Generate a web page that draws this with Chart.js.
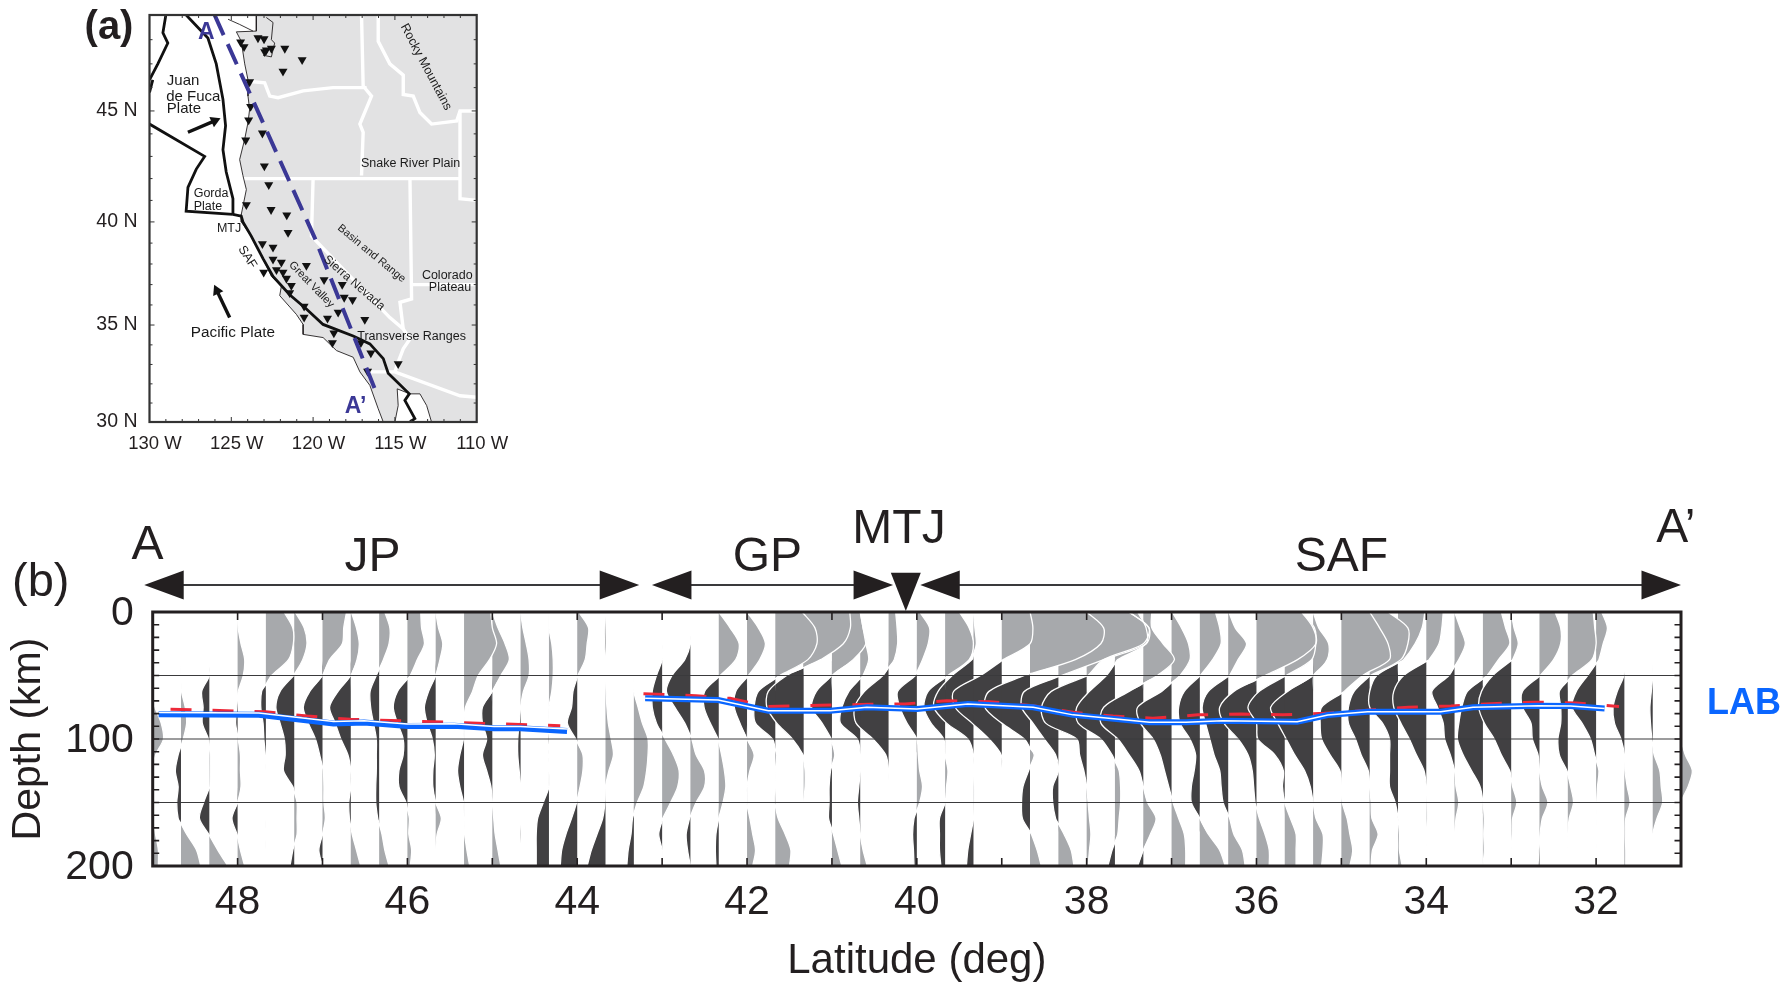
<!DOCTYPE html>
<html>
<head>
<meta charset="utf-8">
<title>Western US LAB profile</title>
<script src="https://cdn.jsdelivr.net/npm/chart.js@4"></script>
<style>
  html, body { margin: 0; padding: 0; background: #fff; overflow: hidden; }
  canvas { position: absolute; left: 0; top: 0; }
</style>
</head>
<body>
<canvas id="profile" width="1785" height="984"></canvas>
<canvas id="map" width="560" height="480"></canvas>
<script>
// ---- panel (b) data ----
const depths = [0, 12.5, 25, 37.5, 50, 62.5, 75, 87.5, 100, 112.5, 125, 137.5, 150, 162.5, 175, 187.5, 200];
const latTicks = [48, 46, 44, 42, 40, 38, 36, 34, 32];
const depthTicks = [0, 100, 200];
const gridDepths = [50, 100, 150];
const traceLats = [49, 48.667, 48.333, 48, 47.667, 47.333, 47, 46.667, 46.333, 46, 45.667, 45.333, 45, 44.667, 44.333, 44, 43.667, 43.333,
  43, 42.667, 42.333, 42, 41.667, 41.333, 41, 40.667, 40.333, 40, 39.667, 39.333, 39, 38.667, 38.333, 38, 37.667, 37.333,
  37, 36.667, 36.333, 36, 35.667, 35.333, 35, 34.667, 34.333, 34, 33.667, 33.333, 33, 32.667, 32.333, 32, 31.667, 31.333, 31];
// amplitude per trace at each depth, in trace spacings; + is grey (right), - is dark (left)
const traceAmps = [
  [0,0,0,0,0,0,.08,.3,.38,.1,0,-.05,-.08,.02,.1,.2,.2],
  [0,0,0,0,0,.02,.15,.2,.08,-.1,-.2,-.1,-.15,-.1,.2,.55,.7],
  [0,0,0,0,0,-.27,-.22,-.25,-.03,.03,.03,.02,-.2,-.35,-.02,.3,.65],
  [0,.02,.12,.25,.2,.02,-.03,-.07,.02,.1,.1,.12,0,-.2,-.02,.1,.25],
  [.64,.95,.97,.8,.2,-.15,-.18,-.1,-.07,-.02,0,0,0,0,-.01,0,0],
  [.03,.35,.45,.3,-.02,-.5,-.65,-.5,-.35,-.32,-.38,-.05,.1,.1,.1,-.05,-.15],
  [.85,.75,.7,.25,0,-.45,-.68,-.5,-.25,-.1,.03,.05,.05,.1,0,-.13,0],
  [.02,.2,.3,.22,0,-.45,-.75,-.55,-.35,-.1,0,0,-.07,-.05,.05,.2,.35],
  [.2,.38,.35,.15,-.1,-.32,-.3,-.2,-.1,-.1,-.1,-.12,-.12,-.05,.1,.2,.35],
  [.47,.5,.6,.35,.1,-.35,-.5,-.35,-.15,-.15,-.3,-.3,-.05,.07,.05,.15,.1],
  [0,.1,.25,.15,0,-.25,-.4,-.3,-.12,-.05,-.1,-.1,0,.2,.05,0,0],
  [.95,1,1.15,.9,.5,.3,.05,0,-.02,-.15,-.23,-.15,-.02,0,.02,.1,.2],
  [0,.2,.45,.6,.3,0,-.35,-.35,-.2,-.35,-.2,-.05,0,.05,.1,.2,.3],
  [0,.08,.2,.3,.3,.1,0,-.05,-.1,-.1,-.05,0,0,0,-.02,0,0],
  [0,0,.1,.15,.15,.1,0,0,-.03,0,0,0,-.2,-.4,-.45,-.45,-.45],
  [.05,.4,.35,.28,.02,-.15,-.2,-.35,-.05,.2,.2,.1,-.02,-.2,-.4,-.55,-.6],
  [0,-.02,-.03,0,0,.02,.05,.1,.2,.28,.12,0,-.02,-.1,-.3,-.5,-.65],
  [0,0,0,0,0,0,.15,.3,.5,.5,.45,.35,.12,-.05,-.1,-.2,-.25],
  [0,0,0,0,-.2,-.35,-.35,-.2,.1,.4,.6,.55,.3,.02,-.12,0,0],
  [0,0,0,-.2,-.65,-.85,-.55,-.2,.05,.2,.5,.5,.2,-.03,-.15,-.1,0],
  [0,.4,.72,.6,.05,-.5,-.52,-.3,-.02,.1,.2,.25,.15,0,-.1,-.12,-.1],
  [0,.4,.65,.45,.05,-.4,-.45,-.25,0,.25,.1,0,-.02,.1,.2,.3,.2],
  [.95,1.4,1.47,1.15,.15,-.6,-.75,-.7,-.1,.05,0,0,-.02,.1,.35,.55,.5],
  [1.63,1.65,1.4,.6,-.6,-1.25,-1.3,-.95,-.4,-.02,.05,.05,0,0,0,0,0],
  [1,1.1,1.2,.75,0,-.55,-.72,-.35,-.02,.1,-.05,-.1,-.1,-.12,.05,.2,.35],
  [0,.1,.2,.3,.1,-.4,-.65,-.7,-.1,0,0,-.05,-.1,-.05,0,.1,.25],
  [.25,.3,.32,.2,-.2,-.85,-1.2,-1.15,-.55,-.1,0,0,0,0,0,0,0],
  [.1,.45,.4,.2,-.05,-.68,-.6,-.35,0,.05,.1,.2,.1,-.1,-.15,-.12,-.1],
  [.5,.85,1,.85,.1,-.6,-.75,-.5,-.05,0,.1,.05,0,-.2,-.2,-.2,-.15],
  [0,.05,.1,-.05,-.75,-1.25,-1.4,-.95,-.2,0,0,.02,.02,0,-.1,-.2,-.25],
  [1,1.1,1,.05,-.75,-1.7,-1.65,-1.05,-.45,-.02,0,0,0,0,0,0,0],
  [2,2.6,2.5,1.6,-.2,-1.45,-1.6,-1,-.2,.15,-.05,-.25,-.3,-.27,.05,.25,.4],
  [2.5,3.2,3.1,1.6,.1,-1.2,-1.3,-.9,-.5,-.1,0,-.2,-.2,-.1,.2,.45,.55],
  [1.5,2.2,2,.6,.05,-1.25,-1.6,-1.45,-.35,-.25,-.1,0,.05,.1,.15,.1,.05],
  [.8,1.1,1.1,.1,-.3,-.9,-1.35,-1.3,-.5,-.1,.15,.2,.2,.15,.1,-.1,-.25],
  [.3,.3,.7,1.1,.5,-.5,-1.4,-1.5,-.9,-.5,-.15,0,.15,.45,.25,0,-.2],
  [.02,.35,.6,.65,.3,-.35,-1.2,-1.1,-.65,-.4,-.25,-.1,.05,.25,.45,.5,.5],
  [.55,.7,.75,.45,.02,-.55,-.75,-.7,-.35,-.15,-.2,-.3,-.3,0,.3,.7,.9],
  [.02,.25,.65,.35,.05,-.7,-.92,-.8,-.65,-.5,-.3,-.25,-.18,.05,.2,.5,.6],
  [1.6,2,2.1,1.45,.3,-.8,-1.3,-1.15,-.65,-.3,-.15,-.1,-.05,.1,.3,.45,.45],
  [.6,1.05,1.1,.95,.05,-.9,-1.3,-1,-.95,-.35,-.05,-.08,0,.2,.4,.4,.4],
  [0,.2,.55,.5,0,-.9,-1.5,-1.25,-.95,-.65,-.3,-.1,0,.1,.35,.35,.3],
  [1,1.35,1.65,1.7,.75,.1,-.7,-.75,-.7,-.4,-.05,0,.03,.2,.3,.4,.3],
  [.65,1.35,1.35,1.1,.02,-.55,-.75,-.75,-.5,-.3,-.05,0,.05,.08,.3,.1,.05],
  [.95,.85,.6,.2,-.75,-1,-1,-.55,-.3,-.3,-.3,-.3,-.1,0,.05,.05,.15],
  [.6,.55,.45,.1,-.8,-1.15,-1.15,-.9,-.6,-.35,-.08,0,.02,.03,0,0,0],
  [0,.2,.38,.15,-.2,-.8,-.6,-.4,-.35,-.15,0,.05,.15,.05,0,0,0],
  [.65,.8,.95,.55,.15,-.55,-.75,-.85,-.9,-.7,-.4,-.1,0,.05,.03,.05,0],
  [0,.1,.25,.05,-.65,-1.05,-1.15,-.95,-.6,-.35,-.05,.05,.2,.05,.03,0,0],
  [.55,.75,.75,.5,.03,-.6,-.6,-.3,-.25,-.05,0,.1,.3,.1,.02,-.02,-.05],
  [.9,.95,1,.85,.15,-.3,-.25,-.25,-.35,-.3,-.03,.1,.2,.05,0,0,0],
  [.2,.4,.25,.1,-.3,-.7,-.85,-.5,-.2,-.05,.1,.05,.02,0,.02,0,0],
  [0,0,0,0,-.02,-.25,-.4,-.35,-.12,0,.02,.1,.2,.05,.03,.05,.05],
  [0,0,0,0,0,-.05,-.1,-.08,-.03,.05,.25,.3,.35,.15,0,0,0],
  [0,0,0,0,0,0,0,0,-.01,.15,.4,.25,0,0,-.03,-.01,0]
];
const labWest = [[48.93,80.6],[47.75,81],[46.87,87.7],[46.51,87.1],[46,89.7],[45.45,89.5],[44.98,91.6],[44.67,91.6],[44.12,93.7]];
const labEast = [[43.2,68],[42.34,69.3],[41.75,77.7],[41.02,77.7],[40.59,75],[40,76.4],[39.4,72.4],[38.63,75],[38.16,81],[37.26,86.9],[36.83,86.9],[36.4,85.6],
  [35.52,86.4],[35.16,81.1],[34.69,78.5],[33.83,78.5],[33.45,75],[32.68,73.8],[32.3,74],[31.9,75.9]];
const redWest = [[48.79,76.6],[47.67,78.5],[47.18,81.9],[46.67,84.5],[44.2,89.5]];
const redEast = [[43.22,64.3],[42.6,65.9],[42.2,68],[41.75,74.5],[41.14,73.5],[40.55,72.7],[40.14,72.4],[39.65,69.8],[39.14,70.6],[38.63,73.8],[38.16,79],[37.69,81.9],[37.22,83.7],
  [36.69,81],[36.18,80.3],[35.69,81],[35.2,79.8],[34.21,75],[33.71,74],[33.23,72.2],[32.73,71],[32.23,71.6],[31.73,74.5]];
// west and east ends of the plate brackets above the profile
const brackets = [[49.1, 43.27], [43.12, 40.28], [39.96, 31]];
const junctionLat = 40.13;

// ---- panel (a) data, [lon, lat] ----
const lonTicks = [-130, -125, -120, -115, -110];
const mapLatTicks = [45, 40, 35, 30];
const land = [[-123.47,49],[-123.47,48.35],[-124.69,48.32],[-124.39,47.93],[-124.18,47],[-123.98,46.33],[-123.98,45.64],[-123.88,45.07],[-123.98,44.5],[-124.18,43.77],[-124.49,42.86],
  [-124.29,42.14],[-124.08,41.5],[-124.29,40.72],[-124.39,40.35],[-124.39,40],[-123.78,39.33],[-123.06,38.26],[-122.55,37.4],[-121.94,36.92],[-122.04,36.46],[-121.02,35.53],[-120.61,35.03],
  [-120.61,34.53],[-119.39,34.37],[-118.57,33.71],[-117.55,33.37],[-117.14,32.62],[-116.53,31.92],[-116.02,30.7],[-115.71,30],[-110,30],[-110,49],[-123.47,49]];
const gulf = [[-114.86,31.74],[-114.08,31.48],[-113.47,31.48],[-113.06,30.87],[-112.76,30],[-115,30],[-114.8,30.87],[-114.86,31.74]];
const puget = [[-122.86,48.9],[-122.45,48.7],[-122.55,48],[-122.35,47.86],[-122.55,47.29],[-123.06,47.36]];
const vancouver = [[-125.2,48.83],[-124.49,48.62],[-123.67,48.35]];
const borders = [
  [[-123.98,46.27],[-122.96,46.2],[-122.65,45.64],[-122.14,45.57],[-120.61,45.86],[-118.78,46],[-116.73,46]],
  [[-117.04,49],[-116.94,46.07],[-116.43,45.64],[-117.14,44.43],[-116.94,44.07],[-117.04,42.14]],
  [[-116.02,49],[-116.02,47.93],[-115.31,47],[-114.49,46.53],[-114.49,45.71],[-113.88,45.64],[-113.47,44.93],[-112.76,44.43],[-111.22,44.57],[-111.02,45],[-110,45]],
  [[-111.02,45],[-111.02,41.08],[-110,41]],
  [[-124.29,42],[-111.02,42]],
  [[-120,42],[-120.1,39.33],[-115.31,35.37],[-114.49,34.8],[-114.08,34.3],[-114.49,33.8],[-114.8,33.12],[-115,32.62]],
  [[-116.63,32.62],[-115,32.62],[-111.02,31.38],[-110,31.3]],
  [[-114.08,42],[-113.98,36.3],[-114.69,36.13],[-114.49,34.8]],
  [[-113.98,37],[-110,37]]
];
const plates = [
  [[-127.76,49],[-126.43,48.07],[-125.92,47],[-125.51,45.5],[-125.35,44.36],[-125.51,43.3],[-125.31,42.3],[-124.9,41.08],[-124.9,40.35]],
  [[-124.9,40.35],[-124.39,40.27],[-124.29,40],[-123.78,39.33],[-123.06,38.26],[-122.45,37.4],[-121.43,36.5],[-120.41,35.8],[-119.39,35.03],[-117.55,34.45],[-116.53,34.05],[-115.71,33.3],[-115.41,32.55],[-114.12,31.48],[-114.39,31.14],[-113.78,30.18],[-114.08,30]],
  [[-129,49],[-129.18,48.28],[-128.88,47.86],[-129.49,47],[-130,46.33]],
  [[-129.8,46.33],[-130,45.8]],
  [[-130,44.43],[-126.63,43],[-127.14,42.43],[-127.65,41.6],[-127.76,40.5],[-124.9,40.35]]
];
const profileLine = [[-126.02,49],[-119.9,39.25],[-116.12,31.5]];
const stations = [[-124.43,47.9],[-124.22,47.71],[-123.37,48.07],[-123,48.03],[-122.86,47.57],[-122.55,47.64],[-122.96,47.5],[-121.73,47.64],[-120.67,47.17],[-121.84,46.69],[-123.88,46.24],
  [-123.82,45.19],[-123.94,44.6],[-123.1,44.03],[-124.12,43.72],[-122.98,42.57],[-122.71,41.72],[-124.08,40.8],[-122.57,40.57],[-121.61,40.32],[-121.53,39.5],[-123.1,38.97],[-122.45,38.8],
  [-122.45,38.22],[-121.94,38.08],[-120.41,37.92],[-123.02,37.6],[-122.24,37.72],[-121.84,37.6],[-121.63,37.3],[-121.33,36.95],[-121.43,36.6],[-119.33,37.23],[-118.22,37],[-118.1,36.37],
  [-117.59,36.25],[-120.55,35.93],[-118.47,35.63],[-120.55,35.38],[-119.12,35.33],[-116.84,35.27],[-118.73,34.6],[-118.82,34.1],[-117.08,34.1],[-116.47,33.58],[-114.8,33.03],[-116.67,32.65]];
const plateArrows = [
  {from: [-127.65,44.07], to: [-126.02,44.57], rot: 66},
  {from: [-125.1,35.38], to: [-125.88,36.7], rot: -25}
];
const mapLabels = [
  {t: 'Juan', lon: -128.94, lat: 46.29, size: 15, align: 'left'},
  {t: 'de Fuca', lon: -128.98, lat: 45.6, size: 15, align: 'left'},
  {t: 'Plate', lon: -128.94, lat: 45.1, size: 15, align: 'left'},
  {t: 'Gorda', lon: -127.3, lat: 41.31, size: 12.5, align: 'left'},
  {t: 'Plate', lon: -127.3, lat: 40.71, size: 12.5, align: 'left'},
  {t: 'MTJ', lon: -125.88, lat: 39.7, size: 12.5, align: 'left'},
  {t: 'SAF', lon: -124.02, lat: 38.33, size: 12.5, rot: 58},
  {t: 'Great Valley', lon: -120.1, lat: 37, size: 11, rot: 46},
  {t: 'Sierra Nevada', lon: -117.49, lat: 37.08, size: 12, rot: 41},
  {t: 'Basin and Range', lon: -116.43, lat: 38.5, size: 11, rot: 39.5},
  {t: 'Colorado', lon: -111.8, lat: 37.45, size: 12.5},
  {t: 'Plateau', lon: -111.63, lat: 36.85, size: 12.5},
  {t: 'Snake River Plain', lon: -114.04, lat: 42.68, size: 12.5},
  {t: 'Rocky Mountains', lon: -113.1, lat: 46.87, size: 12.5, rot: 62},
  {t: 'Transverse Ranges', lon: -113.98, lat: 34.41, size: 12.5},
  {t: 'Pacific Plate', lon: -124.9, lat: 34.63, size: 15.3},
  {t: 'A', lon: -126.53, lat: 48.27, size: 23, bold: true, color: '#3b3896'},
  {t: 'A’', lon: -117.4, lat: 30.8, size: 23, bold: true, color: '#3b3896'}
];

const INK = '#231f20';
const GREY = '#a7a9ac';
const DARK = '#414042';
const BLUE = '#0a66ff';
const FONT = '"Liberation Sans", Arial, sans-serif';

Chart.defaults.font.family = FONT;
Chart.defaults.color = INK;

// ---- panel (b) ----
// wiggle points with the zero crossings added so the lobes can be split by sign
function wigglePoints(lat, amps) {
  const step = 1 / 3;
  const out = [];
  amps.forEach((a, i) => {
    if (i > 0 && amps[i - 1] * a < 0) {
      const f = amps[i - 1] / (amps[i - 1] - a);
      out.push({a: 0, d: depths[i - 1] + f * (depths[i] - depths[i - 1])});
    }
    out.push({a: a, d: depths[i]});
  });
  return {
    full: out.map(p => ({x: lat - p.a * step, y: p.d})),
    pos: out.map(p => ({x: lat - Math.max(p.a, 0) * step, y: p.d})),
    neg: out.map(p => ({x: lat - Math.min(p.a, 0) * step, y: p.d}))
  };
}

const profileDatasets = [];
traceLats.forEach((lat, i) => {
  const w = wigglePoints(lat, traceAmps[i]);
  const edge = lat === 31 ? {clip: false} : {};
  profileDatasets.push({data: w.pos, order: 5, tension: 0.3, borderWidth: 0, backgroundColor: GREY, fill: {target: {value: lat}}, ...edge});
  profileDatasets.push({data: w.neg, order: 5, tension: 0.3, borderWidth: 0, backgroundColor: DARK, fill: {target: {value: lat}}});
  profileDatasets.push({data: w.full, order: 4, tension: 0.3, borderColor: '#fff', borderWidth: 1.3, fill: false, ...edge});
});
gridDepths.forEach(d => {
  profileDatasets.push({data: [{x: 49, y: d}, {x: 31, y: d}], order: 3, borderColor: '#3a3a3c', borderWidth: 1.2, fill: false});
});
function labDatasets(red, blue, whiteShift) {
  profileDatasets.push({data: red.map(p => ({x: p[0], y: p[1]})), order: 2, borderColor: '#ed2939', borderWidth: 3, borderDash: [21, 21], fill: false});
  profileDatasets.push({data: blue.map(p => ({x: p[0], y: p[1]})), order: 1, borderColor: BLUE, borderWidth: 6, fill: false});
  profileDatasets.push({data: blue.map(p => ({x: p[0], y: p[1] + whiteShift})), order: 0, borderColor: '#fff', borderWidth: 1.5, fill: false});
}
labDatasets(redWest, labWest, -1.5);
labDatasets(redEast, labEast, 0);

function drawText(ctx, text, x, y, font, color, align) {
  ctx.font = font;
  ctx.fillStyle = color || INK;
  ctx.textAlign = align || 'center';
  ctx.textBaseline = 'middle';
  ctx.fillText(text, x, y);
}

const profileFrame = {
  id: 'profileFrame',
  afterLayout(chart) {
    // the last trace swings out past the right frame, so let it draw there
    chart.chartArea.right += 16;
    chart.chartArea.width += 16;
  },
  afterDatasetsDraw(chart) {
    const ctx = chart.ctx, xs = chart.scales.x, ys = chart.scales.y;
    const left = xs.getPixelForValue(49), right = xs.getPixelForValue(31);
    const top = ys.getPixelForValue(0), bottom = ys.getPixelForValue(200);
    ctx.save();
    ctx.strokeStyle = INK;
    ctx.lineWidth = 1.6;
    ctx.beginPath();
    for (let lat = 48; lat > 31; lat--) {
      const x = xs.getPixelForValue(lat);
      ctx.moveTo(x, top); ctx.lineTo(x, top + 8);
      ctx.moveTo(x, bottom); ctx.lineTo(x, bottom - 8);
    }
    for (let d = 10; d < 200; d += 10) {
      const y = ys.getPixelForValue(d);
      ctx.moveTo(left, y); ctx.lineTo(left + 6.5, y);
      ctx.moveTo(right, y); ctx.lineTo(right - 6.5, y);
    }
    ctx.stroke();
    ctx.lineWidth = 3;
    ctx.strokeRect(left, top, right - left, bottom - top);

    // plate brackets
    const yb = 585;
    ctx.fillStyle = INK;
    ctx.lineWidth = 2;
    ctx.strokeStyle = '#3a3a3c';
    brackets.forEach(b => {
      const x0 = xs.getPixelForValue(b[0]), x1 = xs.getPixelForValue(b[1]);
      ctx.beginPath();
      ctx.moveTo(x0 + 30, yb); ctx.lineTo(x1 - 30, yb);
      ctx.stroke();
      ctx.beginPath();
      ctx.moveTo(x0, yb); ctx.lineTo(x0 + 39.5, yb - 14.5); ctx.lineTo(x0 + 39.5, yb + 14.5); ctx.closePath();
      ctx.moveTo(x1, yb); ctx.lineTo(x1 - 39.5, yb - 14.5); ctx.lineTo(x1 - 39.5, yb + 14.5); ctx.closePath();
      ctx.fill();
    });
    const xj = xs.getPixelForValue(junctionLat);
    ctx.beginPath();
    ctx.moveTo(xj - 15, 572.7); ctx.lineTo(xj + 15, 572.7); ctx.lineTo(xj, top - 1); ctx.closePath();
    ctx.fill();

    drawText(ctx, 'A', xs.getPixelForValue(49.06), 546, '48px ' + FONT);
    drawText(ctx, 'JP', xs.getPixelForValue(46.41), 558, '48px ' + FONT);
    drawText(ctx, 'GP', xs.getPixelForValue(41.76), 558, '48px ' + FONT);
    drawText(ctx, 'MTJ', xs.getPixelForValue(40.21), 530, '48px ' + FONT);
    drawText(ctx, 'SAF', xs.getPixelForValue(35), 558, '48px ' + FONT);
    drawText(ctx, 'A’', xs.getPixelForValue(31.06), 529, '48px ' + FONT);
    drawText(ctx, '(b)', 12, 583, '47px ' + FONT, INK, 'left');
    drawText(ctx, 'LAB', 1707, 704, 'bold 36px ' + FONT, BLUE, 'left');
    ctx.restore();
  }
};

new Chart(document.getElementById('profile'), {
  type: 'line',
  data: {datasets: profileDatasets},
  plugins: [profileFrame],
  options: {
    indexAxis: 'y',
    responsive: false,
    animation: false,
    events: [],
    layout: {padding: {top: 612, right: 104, bottom: 0, left: 0}},
    elements: {point: {radius: 0}},
    plugins: {legend: {display: false}, tooltip: {enabled: false}},
    scales: {
      x: {
        type: 'linear', min: 31, max: 49, reverse: true,
        grid: {display: false, drawTicks: false}, border: {display: false},
        afterFit: s => { s.height = 118; },
        afterBuildTicks: s => { s.ticks = latTicks.map(v => ({value: v})); },
        ticks: {font: {size: 41}, color: INK, padding: 12, autoSkip: false, maxRotation: 0},
        title: {display: true, text: 'Latitude (deg)', color: INK, font: {size: 42}, padding: -3}
      },
      y: {
        type: 'linear', min: 0, max: 200, reverse: true,
        grid: {display: false, drawTicks: false}, border: {display: false},
        afterFit: s => { s.width = 152.7; s.paddingTop = 0; s.paddingBottom = 0; },
        afterBuildTicks: s => { s.ticks = depthTicks.map(v => ({value: v})); },
        ticks: {font: {size: 41}, color: INK, padding: 19, labelOffset: 2, autoSkip: false},
        title: {display: true, text: 'Depth (km)', color: INK, font: {size: 41}, padding: 4}
      }
    }
  }
});

// ---- panel (a) ----
// Mercator northing, the map's y axis
function merc(lat) {
  return Math.log(Math.tan(Math.PI / 4 + lat * Math.PI / 360));
}
function toXY(list) {
  return list.map(p => ({x: p[0], y: merc(p[1])}));
}

const mapDatasets = [];
mapDatasets.push({data: toXY(land), order: 9, borderWidth: 0, backgroundColor: '#e2e2e3', fill: 'shape'});
borders.forEach(b => mapDatasets.push({data: toXY(b), order: 8, borderColor: '#fff', borderWidth: 3.4, fill: false}));
mapDatasets.push({data: toXY(gulf), order: 7, borderColor: INK, borderWidth: 0.9, backgroundColor: '#fff', fill: 'shape'});
mapDatasets.push({data: toXY(land.slice(0, 31)), order: 7, borderColor: INK, borderWidth: 0.9, fill: false});
mapDatasets.push({data: toXY(puget), order: 7, borderColor: INK, borderWidth: 0.9, fill: false});
mapDatasets.push({data: toXY(vancouver), order: 7, borderColor: INK, borderWidth: 0.9, fill: false});
plates.forEach(p => mapDatasets.push({data: toXY(p), order: 6, borderColor: '#111', borderWidth: 2.8, fill: false}));
mapDatasets.push({data: toXY(stations), order: 5, showLine: false, pointStyle: 'triangle', pointRotation: 180, pointRadius: 5.2, pointBackgroundColor: '#111', pointBorderWidth: 0});
mapDatasets.push({data: toXY(profileLine), order: 4, borderColor: '#3b3896', borderWidth: 4, borderDash: [22, 10], fill: false});
plateArrows.forEach(a => mapDatasets.push({
  data: toXY([a.from, a.to]), order: 3, borderColor: '#111', borderWidth: 3.4, fill: false,
  pointStyle: 'triangle', pointRotation: a.rot, pointRadius: [0, 6.5], pointBackgroundColor: '#111', pointBorderWidth: 0
}));

const mapFrame = {
  id: 'mapFrame',
  afterDatasetsDraw(chart) {
    const ctx = chart.ctx, xs = chart.scales.x, ys = chart.scales.y;
    const left = xs.getPixelForValue(-130), right = xs.getPixelForValue(-110);
    const top = ys.getPixelForValue(merc(49)), bottom = ys.getPixelForValue(merc(30));
    ctx.save();
    ctx.strokeStyle = '#333';
    ctx.lineWidth = 1;
    ctx.beginPath();
    for (let lon = -129; lon < -110; lon++) {
      const x = xs.getPixelForValue(lon), t = lon % 5 === 0 ? 5 : 3;
      ctx.moveTo(x, top); ctx.lineTo(x, top + t);
      ctx.moveTo(x, bottom); ctx.lineTo(x, bottom - t);
    }
    for (let lat = 31; lat < 49; lat++) {
      const y = ys.getPixelForValue(merc(lat)), t = lat % 5 === 0 ? 5 : 3;
      ctx.moveTo(left, y); ctx.lineTo(left + t, y);
      ctx.moveTo(right, y); ctx.lineTo(right - t, y);
    }
    ctx.stroke();
    ctx.lineWidth = 2.2;
    ctx.strokeRect(left, top, right - left, bottom - top);

    mapLabels.forEach(l => {
      ctx.save();
      ctx.translate(xs.getPixelForValue(l.lon), ys.getPixelForValue(merc(l.lat)));
      ctx.rotate((l.rot || 0) * Math.PI / 180);
      drawText(ctx, l.t, 0, 0, (l.bold ? 'bold ' : '') + l.size + 'px ' + FONT, l.color || '#1a1a1a', l.align);
      ctx.restore();
    });
    drawText(ctx, '(a)', 109, 28, 'bold 40px ' + FONT);
    ctx.restore();
  }
};

new Chart(document.getElementById('map'), {
  type: 'line',
  data: {datasets: mapDatasets},
  plugins: [mapFrame],
  options: {
    responsive: false,
    animation: false,
    events: [],
    layout: {padding: {top: 15, right: 83.3, bottom: 0, left: 0}},
    elements: {point: {radius: 0}},
    plugins: {legend: {display: false}, tooltip: {enabled: false}},
    scales: {
      x: {
        type: 'linear', min: -130, max: -110,
        grid: {display: false, drawTicks: false}, border: {display: false},
        afterFit: s => { s.height = 58; },
        afterBuildTicks: s => { s.ticks = lonTicks.map(v => ({value: v})); },
        ticks: {font: {size: 18.5}, color: INK, padding: 11, labelOffset: 5.5, autoSkip: false, maxRotation: 0,
          callback: v => Math.abs(v) + ' W'}
      },
      y: {
        type: 'linear', min: merc(30), max: merc(49),
        grid: {display: false, drawTicks: false}, border: {display: false},
        afterFit: s => { s.width = 149.5; s.paddingTop = 0; s.paddingBottom = 0; },
        afterBuildTicks: s => { s.ticks = mapLatTicks.map(v => ({value: merc(v)})); },
        ticks: {font: {size: 19.5}, color: INK, padding: 12, autoSkip: false,
          callback: (v, i) => mapLatTicks[i] + ' N'}
      }
    }
  }
});
</script>
</body>
</html>
